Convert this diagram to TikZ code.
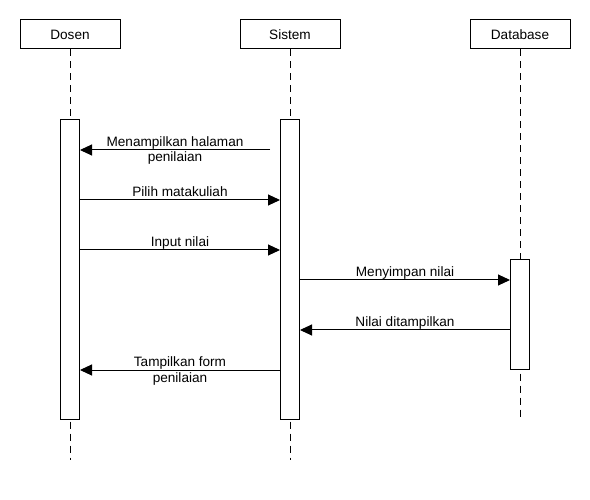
\documentclass[tikz,border=0pt]{standalone}
\usepackage{fontspec}
\setmainfont{Liberation Sans}
\usetikzlibrary{arrows.meta}
\begin{document}
\begin{tikzpicture}[x=1pt,y=-1pt,
  every node/.style={font=\fontsize{13.6}{15.5}\selectfont},
  actor/.style={draw, line width=1pt, minimum width=100pt, minimum height=29pt, inner sep=0pt},
  actbox/.style={draw, fill=white, line width=1pt, minimum width=19pt, inner sep=0pt},
  lifeline/.style={line width=1pt, dash pattern=on 7pt off 5pt},
  msg/.style={line width=1pt, -{Triangle[length=12pt,width=11pt]}},
  lbl/.style={anchor=base, yshift=3.5pt, inner sep=0pt, align=center},
  lbltwo/.style={anchor=base, yshift=-12pt, inner sep=0pt, align=center}]
\useasboundingbox (0,0) rectangle (590,500);
% actors
\node[actor] (dosen) at (70,34.5) {Dosen};
\node[actor] (sistem) at (290,34.5) {Sistem};
\node[actor] (db) at (520,34.5) {Database};
% lifeline ends
\coordinate (endD) at (70,460);
\coordinate (endS) at (290,460);
\coordinate (endB) at (520,417);
% lifelines
\draw[lifeline] (dosen.south) -- (endD);
\draw[lifeline] (sistem.south) -- (endS);
\draw[lifeline] (db.south) -- (endB);
% activation boxes
\node[actbox, minimum height=299pt] (actD) at (70,269.5) {};
\node[actbox, minimum height=299pt] (actS) at (290,269.5) {};
\node[actbox, minimum height=109pt] (actB) at (520,314.5) {};
% message rows
\coordinate (m1) at (270,150);
\coordinate (y2) at (0,200);
\coordinate (y3) at (0,250);
\coordinate (y4) at (0,280);
\coordinate (y5) at (0,330);
\coordinate (y6) at (0,370);
\draw[msg] (m1) -- (actD.east |- m1)
  node[midway, lbltwo] {Menampilkan halaman\\penilaian};
\draw[msg] (actD.east |- y2) -- (actS.west |- y2)
  node[midway, lbl] {Pilih matakuliah};
\draw[msg] (actD.east |- y3) -- (actS.west |- y3)
  node[midway, lbl] {Input nilai};
\draw[msg] (actS.east |- y4) -- (actB.west |- y4)
  node[midway, lbl] {Menyimpan nilai};
\draw[msg] (actB.west |- y5) -- (actS.east |- y5)
  node[midway, lbl] {Nilai ditampilkan};
\draw[msg] (actS.west |- y6) -- (actD.east |- y6)
  node[midway, lbltwo] {Tampilkan form\\penilaian};
\end{tikzpicture}
\end{document}
